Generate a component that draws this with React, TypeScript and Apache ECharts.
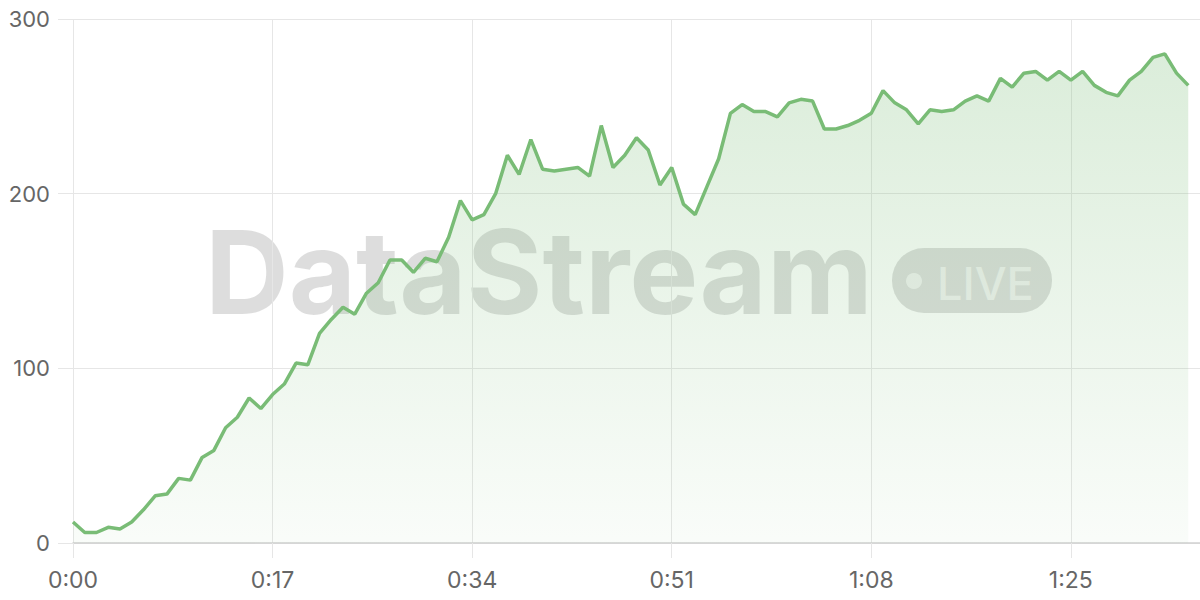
import React, { useEffect, useRef } from "react";
import * as echarts from "echarts";

// seconds 0..96 on the time axis (last slot is empty padding)
const SECONDS_COUNT = 97;
const categories: string[] = [];
for (let s = 0; s < SECONDS_COUNT; s++) {
  categories.push(`${Math.floor(s / 60)}:${String(s % 60).padStart(2, "0")}`);
}

const values = [
  12, 6, 6, 9, 8, 12, 19, 27, 28, 37, 36, 49, 53, 66, 72, 83, 77, 85, 91, 103,
  102, 120, 128, 135, 131, 143, 149, 162, 162, 155, 163, 161, 175, 196, 185, 188, 200, 222, 211, 231,
  214, 213, 214, 215, 210, 239, 215, 222, 232, 225, 205, 215, 194, 188, 204, 220, 246, 251, 247, 247,
  244, 252, 254, 253, 237, 237, 239, 242, 246, 259, 252, 248, 240, 248, 247, 248, 253, 256, 253, 266,
  261, 269, 270, 265, 270, 265, 270, 262, 258, 256, 265, 270, 278, 280, 269, 262,
];

const yMin = 0;
const yMax = 300;
const yStep = 100;
const labelEvery = 17;

const FONT = "Inter, 'Noto Sans', sans-serif";

export default function App() {
  const ref = useRef<HTMLDivElement>(null);
  useEffect(() => {
    const chart = echarts.init(ref.current!, null, { renderer: "svg" });
    chart.setOption({
      animation: false,
      backgroundColor: "#ffffff",
      grid: {
        left: 73,
        right: 0,
        top: 19,
        bottom: 57,
        containLabel: false,
        outerBoundsMode: "none",
      },
      graphic: [
        {
          type: "text",
          z: -10,
          silent: true,
          style: {
            text: "DataStream",
            x: 205,
            y: 272,
            fontSize: 116,
            fontWeight: 700,
            fontFamily: FONT,
            fill: "rgba(0,0,0,0.135)",
            verticalAlign: "middle",
            align: "left",
          },
        },
        {
          type: "rect",
          z: -10,
          silent: true,
          shape: { x: 892, y: 248, width: 160, height: 65, r: 32 },
          style: { fill: "rgba(0,0,0,0.135)" },
        },
        {
          type: "circle",
          z: -9,
          silent: true,
          shape: { cx: 914, cy: 281, r: 8 },
          style: { fill: "rgba(255,255,255,0.6)" },
        },
        {
          type: "text",
          z: -9,
          silent: true,
          style: {
            text: "LIVE",
            x: 937,
            y: 283,
            fontSize: 45,
            fontWeight: 500,
            fontFamily: FONT,
            fill: "rgba(255,255,255,0.6)",
            verticalAlign: "middle",
            align: "left",
          },
        },
      ],
      xAxis: {
        type: "category",
        data: categories,
        boundaryGap: false,
        axisLine: { show: true, lineStyle: { color: "#d0d0d0", width: 1.5 } },
        axisTick: {
          show: true,
          interval: labelEvery - 1,
          length: 15,
          lineStyle: { color: "#e6e6e6", width: 1 },
        },
        axisLabel: {
          interval: labelEvery - 1,
          margin: 25,
          fontSize: 23,
          color: "#666666",
          fontFamily: FONT,
        },
        splitLine: {
          show: true,
          interval: labelEvery - 1,
          lineStyle: { color: "#e6e6e6", width: 1 },
        },
      },
      yAxis: {
        type: "value",
        min: yMin,
        max: yMax,
        interval: yStep,
        axisLine: { show: false },
        axisTick: { show: true, length: 15, lineStyle: { color: "#e6e6e6", width: 1 } },
        axisLabel: {
          margin: 23,
          fontSize: 22,
          color: "#666666",
          fontFamily: FONT,
        },
        splitLine: { show: true, lineStyle: { color: "#e6e6e6", width: 1 } },
      },
      series: [
        {
          type: "line",
          data: values,
          symbol: "none",
          smooth: false,
          z: 5,
          lineStyle: { color: "#79bc76", width: 3.5 },
          itemStyle: { color: "#79bc76" },
          areaStyle: {
            color: new echarts.graphic.LinearGradient(0, 0, 0, 1, [
              { offset: 0, color: "rgba(121,188,118,0.38)" },
              { offset: 1, color: "rgba(121,188,118,0.06)" },
            ]),
          },
        },
      ],
    });
    return () => chart.dispose();
  }, []);
  return (
    <div
      ref={ref}
      style={{ position: "fixed", left: 0, top: 0, width: 1200, height: 600, background: "#fff" }}
    />
  );
}
